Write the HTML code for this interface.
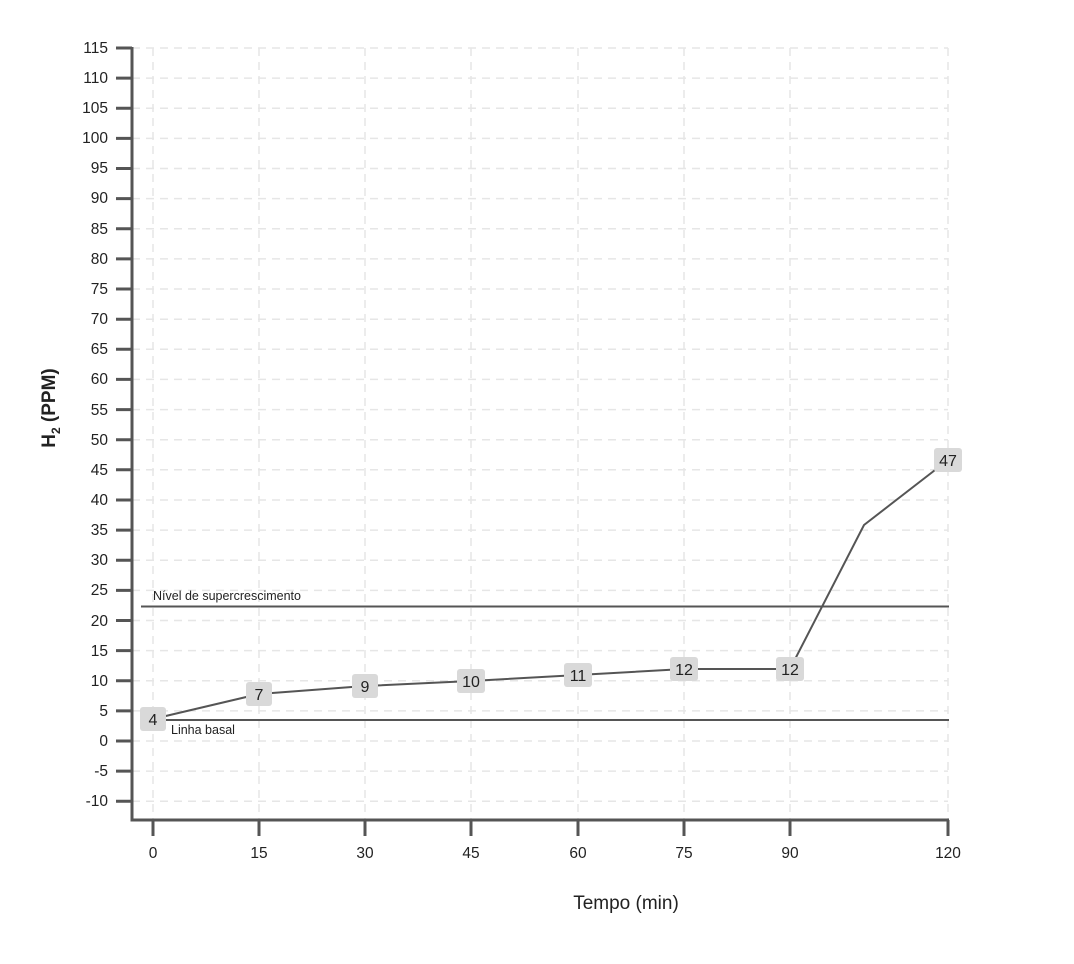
<!DOCTYPE html>
<html><head><meta charset="utf-8"><style>
body{margin:0;background:#fff;width:1074px;height:959px;overflow:hidden}
svg text{font-family:"Liberation Sans",sans-serif;fill:#222}
</style></head><body>
<svg width="1074" height="959" viewBox="0 0 1074 959" xmlns="http://www.w3.org/2000/svg">
<g stroke="#e6e6e6" stroke-width="1.5" stroke-dasharray="8,6" fill="none">
<path d="M153 48V819M259 48V819M365 48V819M471 48V819M578 48V819M684 48V819M790 48V819M948 48V819"/>
<path d="M132 48H948M132 78.1H948M132 108.3H948M132 138.4H948M132 168.5H948M132 198.6H948M132 228.8H948M132 258.9H948M132 289H948M132 319.2H948M132 349.3H948M132 379.4H948M132 409.6H948M132 439.7H948M132 469.8H948M132 500H948M132 530.1H948M132 560.2H948M132 590.4H948M132 620.5H948M132 650.6H948M132 680.8H948M132 710.9H948M132 741H948M132 771.1H948M132 801.2H948"/>
</g>
<g stroke="#555" stroke-width="3" fill="none">
<path d="M132 47V820H949"/>
<path d="M116 48H132M116 78.1H132M116 108.3H132M116 138.4H132M116 168.5H132M116 198.6H132M116 228.8H132M116 258.9H132M116 289H132M116 319.2H132M116 349.3H132M116 379.4H132M116 409.6H132M116 439.7H132M116 469.8H132M116 500H132M116 530.1H132M116 560.2H132M116 590.4H132M116 620.5H132M116 650.6H132M116 680.8H132M116 710.9H132M116 741H132M116 771.1H132M116 801.2H132"/>
<path d="M153 820V836M259 820V836M365 820V836M471 820V836M578 820V836M684 820V836M790 820V836M948 820V836"/>
</g>
<g stroke="#555" stroke-width="2" fill="none">
<path d="M141 606.5H949M141 720H949"/>
<path d="M153 719L259 694L365 686L471 681L578 675L684 669L790 669L864 525L948 460"/>
</g>
<g font-size="15.5" text-anchor="end">
<text x="108" y="53">115</text><text x="108" y="83">110</text><text x="108" y="113">105</text><text x="108" y="143">100</text><text x="108" y="173">95</text><text x="108" y="203">90</text><text x="108" y="234">85</text><text x="108" y="264">80</text><text x="108" y="294">75</text><text x="108" y="324">70</text><text x="108" y="354">65</text><text x="108" y="384">60</text><text x="108" y="415">55</text><text x="108" y="445">50</text><text x="108" y="475">45</text><text x="108" y="505">40</text><text x="108" y="535">35</text><text x="108" y="565">30</text><text x="108" y="595">25</text><text x="108" y="626">20</text><text x="108" y="656">15</text><text x="108" y="686">10</text><text x="108" y="716">5</text><text x="108" y="746">0</text><text x="108" y="776">-5</text><text x="108" y="806">-10</text>
</g>
<g font-size="15.5" text-anchor="middle">
<text x="153" y="858">0</text><text x="259" y="858">15</text><text x="365" y="858">30</text><text x="471" y="858">45</text><text x="578" y="858">60</text><text x="684" y="858">75</text><text x="790" y="858">90</text><text x="948" y="858">120</text>
<text x="626" y="909" font-size="19">Tempo (min)</text>
</g>
<text transform="translate(55,408) rotate(-90)" font-size="19" font-weight="bold" text-anchor="middle">H<tspan font-size="12" dy="5">2</tspan><tspan dy="-5"> (PPM)</tspan></text>
<text x="153" y="600" font-size="12.5">Nível de supercrescimento</text>
<text x="171" y="734" font-size="12.5">Linha basal</text>
<g fill="#d9d9d9">
<rect x="140" y="707" width="26" height="24" rx="3"/><rect x="246" y="682" width="26" height="24" rx="3"/><rect x="352" y="674" width="26" height="24" rx="3"/><rect x="457" y="669" width="28" height="24" rx="3"/><rect x="564" y="663" width="28" height="24" rx="3"/><rect x="670" y="657" width="28" height="24" rx="3"/><rect x="776" y="657" width="28" height="24" rx="3"/><rect x="934" y="448" width="28" height="24" rx="3"/>
</g>
<g font-size="16" text-anchor="middle">
<text x="153" y="725">4</text><text x="259" y="700">7</text><text x="365" y="692">9</text><text x="471" y="687">10</text><text x="578" y="681">11</text><text x="684" y="675">12</text><text x="790" y="675">12</text><text x="948" y="466">47</text>
</g>
</svg>
</body></html>
